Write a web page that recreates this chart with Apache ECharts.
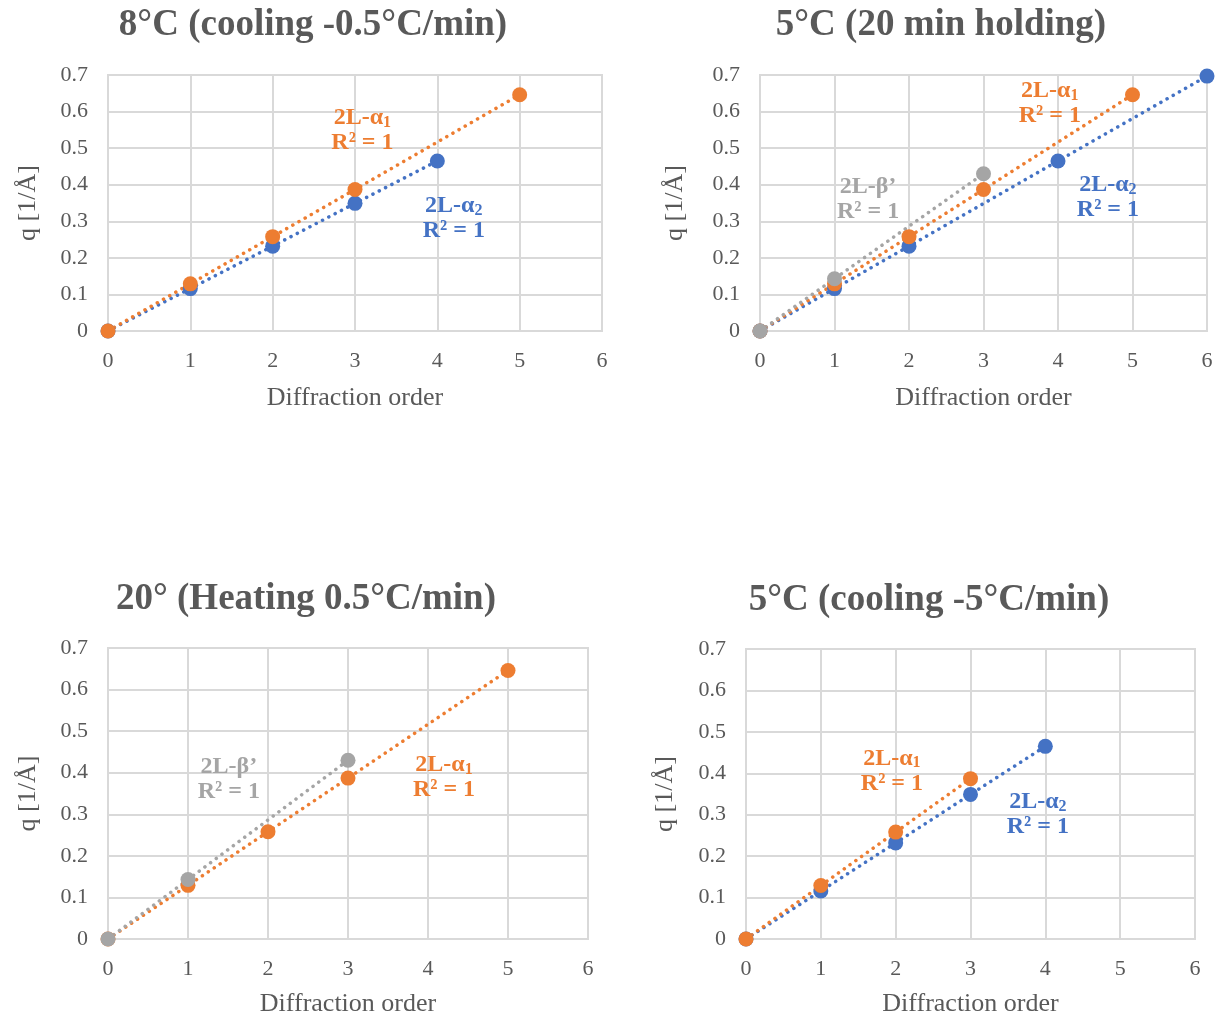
<!DOCTYPE html>
<html>
<head>
<meta charset="utf-8">
<script src="https://cdn.jsdelivr.net/npm/echarts@6/dist/echarts.min.js"></script>
<style>
  html, body { margin: 0; background: #fff; }
  #main { width: 1216px; height: 1019px; }
</style>
</head>
<body>
<div id="main"></div>
<script>
// ---- data ----
var titles = [
  '8°C (cooling -0.5°C/min)',
  '5°C (20 min holding)',
  '20° (Heating 0.5°C/min)',
  '5°C (cooling -5°C/min)'
];
var xTicks = [0, 1, 2, 3, 4, 5, 6];
var yTicks = [0, 0.1, 0.2, 0.3, 0.4, 0.5, 0.6, 0.7];

// panel 1: 8°C cooling -0.5°C/min
var p1Alpha2Order = [0, 1, 2, 3, 4];
var p1Alpha2Q     = [0, 0.116, 0.232, 0.349, 0.465];
var p1Alpha1Order = [0, 1, 2, 3, 5];
var p1Alpha1Q     = [0, 0.129, 0.258, 0.387, 0.646];

// panel 2: 5°C 20 min holding
var p2Alpha2Order = [0, 1, 2, 4, 6];
var p2Alpha2Q     = [0, 0.116, 0.232, 0.465, 0.697];
var p2Alpha1Order = [0, 1, 2, 3, 5];
var p2Alpha1Q     = [0, 0.129, 0.258, 0.387, 0.646];
var p2BetaOrder   = [0, 1, 3];
var p2BetaQ       = [0, 0.143, 0.430];

// panel 3: 20° heating 0.5°C/min
var p3Alpha1Order = [0, 1, 2, 3, 5];
var p3Alpha1Q     = [0, 0.129, 0.258, 0.387, 0.646];
var p3BetaOrder   = [0, 1, 3];
var p3BetaQ       = [0, 0.143, 0.430];

// panel 4: 5°C cooling -5°C/min
var p4Alpha2Order = [0, 1, 2, 3, 4];
var p4Alpha2Q     = [0, 0.116, 0.232, 0.349, 0.465];
var p4Alpha1Order = [0, 1, 2, 3];
var p4Alpha1Q     = [0, 0.129, 0.258, 0.387];

// ---- styling ----
var BLUE = '#4472C4', ORANGE = '#ED7D31', GREY = '#A5A5A5';
var TXT = '#595959', GRIDC = '#D9D9D9';
var SERIF = '"Liberation Serif", "Times New Roman", serif';

// plot areas (left, top, width, height) and title centre per panel
var layout = [
  { l: 108, t: 75,  w: 494, h: 256, tx: 308, ty: 2,   yGap: 67, xGap: 54 },
  { l: 760, t: 75,  w: 447, h: 256, tx: 936, ty: 2,   yGap: 72, xGap: 54 },
  { l: 108, t: 648, w: 480, h: 291, tx: 301, ty: 576, yGap: 67, xGap: 52 },
  { l: 746, t: 649, w: 449, h: 290, tx: 924, ty: 577, yGap: 68, xGap: 52 }
];

function pairs(xs, ys) {
  return xs.map(function (x, i) { return [x, ys[i]]; });
}

function tagLabel(name, sub, color) {
  var f = sub ? '{n|' + name + '}{s|' + sub + '}\n{n|R² = 1}' : '{n|' + name + '}\n{n|R² = 1}';
  return {
    show: true,
    position: 'inside',
    formatter: f,
    rich: {
      n: { fontFamily: SERIF, fontSize: 24, fontWeight: 'bold', color: color, lineHeight: 25 },
      s: { fontFamily: SERIF, fontSize: 16, fontWeight: 'bold', color: color, padding: [10, 0, 0, 0], lineHeight: 25 }
    }
  };
}

var series = [];
function addSet(idx, xs, ys, color, tag) {
  series.push({
    type: 'line',
    xAxisIndex: idx, yAxisIndex: idx,
    data: pairs(xs, ys),
    showSymbol: false, symbol: 'none',
    lineStyle: { color: color, width: 3.5, type: [0.1, 7], cap: 'round' },
    silent: true,
    z: 2,
    markPoint: tag ? {
      symbol: 'circle', symbolSize: 0, silent: true,
      data: [{ coord: tag.at, label: tagLabel(tag.name, tag.sub, color) }]
    } : undefined
  });
  series.push({
    type: 'scatter',
    xAxisIndex: idx, yAxisIndex: idx,
    data: pairs(xs, ys),
    symbol: 'circle', symbolSize: 15,
    itemStyle: { color: color, opacity: 1 },
    z: 3
  });
}

addSet(0, p1Alpha2Order, p1Alpha2Q, BLUE,   { name: '2L-α', sub: '2', at: [4.2, 0.309] });
addSet(0, p1Alpha1Order, p1Alpha1Q, ORANGE, { name: '2L-α', sub: '1', at: [3.09, 0.549] });

addSet(1, p2Alpha2Order, p2Alpha2Q, BLUE,   { name: '2L-α', sub: '2', at: [4.67, 0.366] });
addSet(1, p2Alpha1Order, p2Alpha1Q, ORANGE, { name: '2L-α', sub: '1', at: [3.89, 0.623] });
addSet(1, p2BetaOrder,   p2BetaQ,   GREY,   { name: '2L-β’', sub: '', at: [1.45, 0.361] });

addSet(2, p3Alpha1Order, p3Alpha1Q, ORANGE, { name: '2L-α', sub: '1', at: [4.2, 0.39] });
addSet(2, p3BetaOrder,   p3BetaQ,   GREY,   { name: '2L-β’', sub: '', at: [1.51, 0.385] });

addSet(3, p4Alpha2Order, p4Alpha2Q, BLUE,   { name: '2L-α', sub: '2', at: [3.9, 0.30] });
addSet(3, p4Alpha1Order, p4Alpha1Q, ORANGE, { name: '2L-α', sub: '1', at: [1.95, 0.406] });

var grids = [], xAxes = [], yAxes = [], titleList = [];
layout.forEach(function (p, i) {
  grids.push({ left: p.l, top: p.t, width: p.w, height: p.h, show: true,
    borderColor: GRIDC, borderWidth: 2, backgroundColor: 'transparent' });
  xAxes.push({
    type: 'value', gridIndex: i,
    min: xTicks[0], max: xTicks[xTicks.length - 1], interval: 1,
    name: 'Diffraction order', nameLocation: 'middle', nameGap: p.xGap,
    nameTextStyle: { fontFamily: SERIF, fontSize: 26, color: TXT },
    axisLine: { show: true, lineStyle: { color: GRIDC, width: 2 } },
    axisTick: { show: false },
    axisLabel: { fontFamily: SERIF, fontSize: 22, color: TXT, margin: 19 },
    splitLine: { show: true, lineStyle: { color: GRIDC, width: 2 } }
  });
  yAxes.push({
    type: 'value', gridIndex: i,
    min: yTicks[0], max: yTicks[yTicks.length - 1], interval: 0.1,
    name: 'q [1/Å]', nameLocation: 'middle', nameGap: p.yGap, nameRotate: 90,
    nameTextStyle: { fontFamily: SERIF, fontSize: 26, color: TXT },
    axisLine: { show: true, lineStyle: { color: GRIDC, width: 2 } },
    axisTick: { show: false },
    axisLabel: { fontFamily: SERIF, fontSize: 22, color: TXT, margin: 20 },
    splitLine: { show: true, lineStyle: { color: GRIDC, width: 2 } }
  });
  titleList.push({
    text: titles[i], left: p.tx, top: p.ty, textAlign: 'center',
    textStyle: { fontFamily: SERIF, fontSize: 37, fontWeight: 'bold', color: TXT }
  });
});

var chart = echarts.init(document.getElementById('main'), null, { renderer: 'canvas' });
chart.setOption({
  backgroundColor: '#fff',
  animation: false,
  title: titleList,
  grid: grids,
  xAxis: xAxes,
  yAxis: yAxes,
  series: series
});
</script>
</body>
</html>
